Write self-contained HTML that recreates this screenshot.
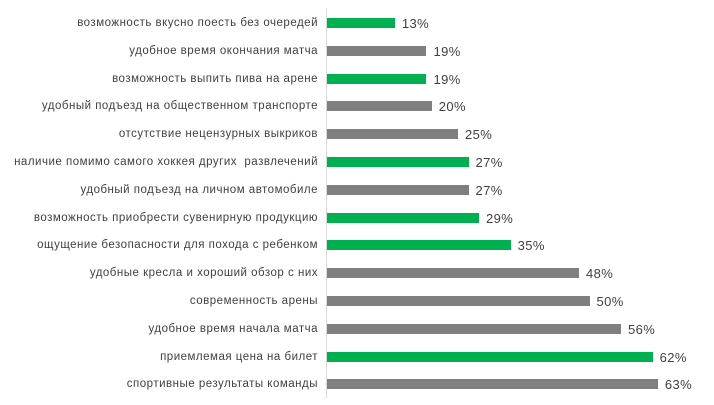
<!DOCTYPE html>
<html><head><meta charset="utf-8"><style>
body{margin:0;width:714px;height:405px;background:#fff;position:relative;overflow:hidden;font-family:"Liberation Sans",sans-serif;}
.l{position:absolute;right:396px;font-size:11.5px;letter-spacing:0.5px;color:#404040;white-space:nowrap;line-height:14px;}
.b{position:absolute;left:327px;height:10px;}
.v{position:absolute;font-size:13px;letter-spacing:0.4px;color:#404040;line-height:14px;}
.ax{position:absolute;left:326px;top:8px;width:1px;height:390px;background:#d9d9d9;}
</style></head><body>
<div class="ax"></div>
<div id="c"></div>
<script>
var d=[["возможность вкусно поесть без очередей",13,1],["удобное время окончания матча",19,0],["возможность выпить пива на арене",19,1],["удобный подъезд на общественном транспорте",20,0],["отсутствие нецензурных выкриков",25,0],["наличие помимо самого хоккея других  развлечений",27,1],["удобный подъезд на личном автомобиле",27,0],["возможность приобрести сувенирную продукцию",29,1],["ощущение безопасности для похода с ребенком",35,1],["удобные кресла и хороший обзор с них",48,0],["современность арены",50,0],["удобное время начала матча",56,0],["приемлемая цена на билет",62,1],["спортивные результаты команды",63,0]];
var h="";
d.forEach(function(r,i){var cy=23+i*27.8;var w=r[1]*5.26-0.5;
h+='<div class="l" style="top:'+(cy-7)+'px">'+r[0].replace(/  /g,' &nbsp;')+'</div>';
h+='<div class="b" style="top:'+(cy-5)+'px;width:'+w+'px;background:'+(r[2]?'#00b050':'#7f7f7f')+'"></div>';
h+='<div class="v" style="top:'+(cy-6)+'px;left:'+(327+w+7)+'px">'+r[1]+'%</div>';});
document.getElementById('c').innerHTML=h;
</script>
</body></html>
